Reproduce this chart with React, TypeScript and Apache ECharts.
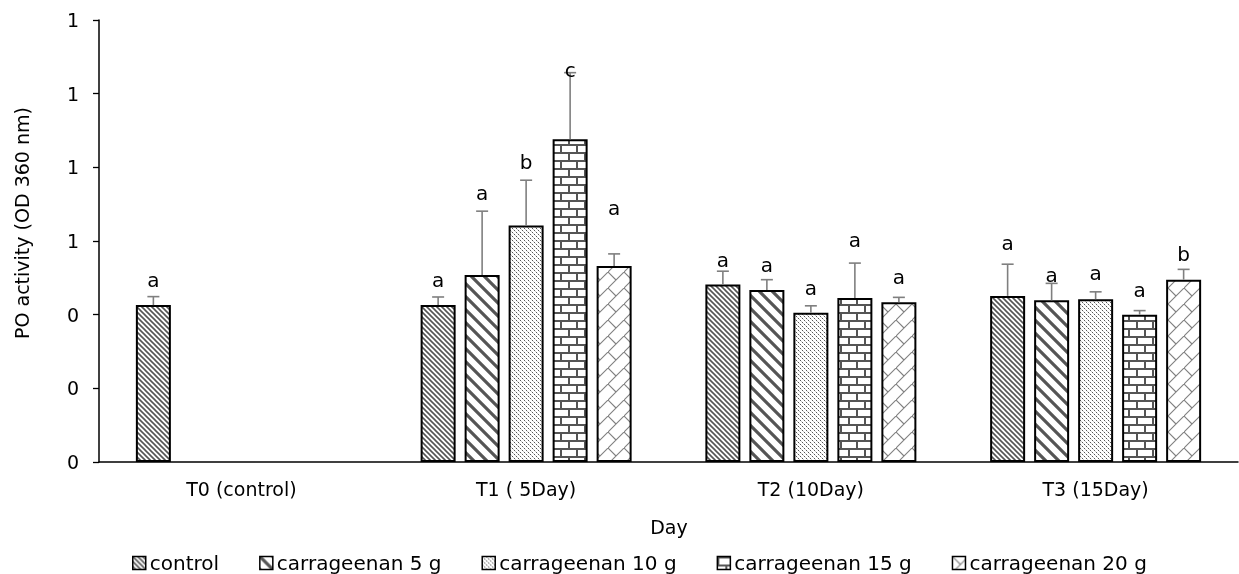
import React, { useEffect, useRef } from "react";
import * as echarts from "echarts";

const categories = ["T0 (control)", "T1 ( 5Day)", "T2 (10Day)", "T3 (15Day)"];
const seriesNames = ["control", "carrageenan 5 g", "carrageenan 10 g", "carrageenan 15 g", "carrageenan 20 g"];

const controlVals = [0.426, 0.426, 0.482, 0.451];
const c5Vals = [null, 0.508, 0.467, 0.439];
const c10Vals = [null, 0.642, 0.405, 0.442];
const c15Vals = [null, 0.876, 0.445, 0.4];
const c20Vals = [null, 0.532, 0.434, 0.495];

const controlErr = [0.023, 0.022, 0.036, 0.086];
const c5Err = [0, 0.173, 0.028, 0.046];
const c10Err = [0, 0.123, 0.019, 0.02];
const c15Err = [0, 0.181, 0.095, 0.011];
const c20Err = [0, 0.033, 0.013, 0.028];

const controlLetters = ["a", "a", "a", "a"];
const c5Letters = ["", "a", "a", "a"];
const c10Letters = ["", "b", "a", "a"];
const c15Letters = ["", "c", "a", "a"];
const c20Letters = ["", "a", "a", "b"];

// letter centre heights (in axis units)
const controlLetterY = [0.488, 0.489, 0.543, 0.589];
const c5LetterY = [0, 0.725, 0.53, 0.503];
const c10LetterY = [0, 0.809, 0.468, 0.508];
const c15LetterY = [0, 1.06, 0.598, 0.462];
const c20LetterY = [0, 0.684, 0.498, 0.559];

const yTicks = { min: 0, max: 1.2, interval: 0.2 };

const FONT = '"DejaVu Sans", sans-serif';
const BAR_W = 35;
const BAR_GAP = 9;

function tile(inner: string, w: number, h: number) {
  const svg = `<svg xmlns="http://www.w3.org/2000/svg" width="${w}" height="${h}" viewBox="0 0 ${w} ${h}">${inner}</svg>`;
  return {
    image: "data:image/svg+xml;charset=utf-8," + encodeURIComponent(svg),
    repeat: "repeat",
    imageWidth: w,
    imageHeight: h,
  } as any;
}

const patterns = [
  tile(
    `<rect width="5" height="5" fill="#fff"/><path d="M-1,-1 L6,6 M-1,4 L1,6 M4,-1 L6,1" stroke="#555" stroke-width="1.6" fill="none"/>`,
    5,
    5
  ),
  tile(
    `<rect width="13" height="13" fill="#fff"/><path d="M-1,-1 L14,14 M-4,9 L4,17 M9,-4 L17,4" stroke="#555" stroke-width="3.2" fill="none"/>`,
    13,
    13
  ),
  tile(
    `<rect width="4" height="4" fill="#fff"/><rect x="0" y="0" width="1" height="1" fill="#555"/><rect x="2" y="2" width="1" height="1" fill="#555"/><rect x="1" y="1" width="1" height="1" fill="#c8c8c8"/><rect x="3" y="3" width="1" height="1" fill="#c8c8c8"/>`,
    4,
    4
  ),
  tile(
    `<rect width="16" height="16" fill="#fff"/><rect x="0" y="0" width="16" height="2" fill="#555"/><rect x="0" y="8" width="16" height="2" fill="#555"/><rect x="0" y="0" width="2" height="8" fill="#555"/><rect x="8" y="8" width="2" height="8" fill="#555"/>`,
    16,
    16
  ),
  tile(
    `<rect width="16" height="16" fill="#fff"/><path d="M-2,18 L18,-2 M0,0 L8,8" stroke="#808080" stroke-width="1.1" fill="none"/>`,
    16,
    16
  ),
];

const allVals = [controlVals, c5Vals, c10Vals, c15Vals, c20Vals];
const allErr = [controlErr, c5Err, c10Err, c15Err, c20Err];
const allLetters = [controlLetters, c5Letters, c10Letters, c15Letters, c20Letters];
const allLetterY = [controlLetterY, c5LetterY, c10LetterY, c15LetterY, c20LetterY];

export default function App() {
  const ref = useRef<HTMLDivElement>(null);
  useEffect(() => {
    if (!ref.current) return;
    const chart = echarts.init(ref.current, null, { renderer: "svg" });

    const barSeries = allVals.map((vals, k) => ({
      name: seriesNames[k],
      type: "bar",
      data: vals.map((v) => (v == null ? "-" : v)),
      barWidth: BAR_W,
      barGap: (BAR_GAP / BAR_W) * 100 + "%",
      itemStyle: { color: patterns[k], borderColor: "#000", borderWidth: 2 },
      z: 2,
    }));

    const errSeries = allVals.map((vals, k) => ({
      name: "err" + k,
      type: "custom",
      z: 3,
      data: vals.map((v, i) => [i, v == null ? 0 : v]),
      encode: { x: 0, y: 1 },
      renderItem: (params: any, api: any) => {
        const i = params.dataIndex;
        const v = vals[i];
        if (v == null) return null;
        const base = api.coord([i, v]);
        const x = base[0] + (k - 2) * (BAR_W + BAR_GAP);
        const top = api.coord([i, v + allErr[k][i]])[1];
        const ly = api.coord([i, allLetterY[k][i]])[1];
        return {
          type: "group",
          children: [
            { type: "line", shape: { x1: x, y1: base[1], x2: x, y2: top }, style: { stroke: "#7f7f7f", lineWidth: 1.6 } },
            { type: "line", shape: { x1: x - 6, y1: top, x2: x + 6, y2: top }, style: { stroke: "#7f7f7f", lineWidth: 1.6 } },
            {
              type: "text",
              x: x,
              y: ly - 2,
              style: {
                text: allLetters[k][i],
                fill: "#000",
                fontSize: 20,
                fontFamily: FONT,
                align: "center",
                verticalAlign: "middle",
              },
            },
          ],
        };
      },
    }));

    chart.setOption({
      animation: false,
      grid: { left: 99, right: 1, top: 20, bottom: 112, containLabel: false },
      legend: {
        data: seriesNames,
        icon: "rect",
        left: 127,
        top: 548,
        itemWidth: 13,
        itemHeight: 13,
        itemGap: 40,
        itemStyle: { borderWidth: 1.5, borderColor: "#000" },
        textStyle: { fontSize: 20, fontFamily: FONT, color: "#000", padding: [0, 0, 0, -1] },
      },
      xAxis: {
        type: "category",
        data: categories,
        axisLine: { lineStyle: { color: "#000", width: 1.5 } },
        axisTick: { length: 6, lineStyle: { color: "#000", width: 1.3 } },
        axisLabel: { fontSize: 19, fontFamily: FONT, color: "#000", margin: 17 },
      },
      yAxis: {
        type: "value",
        min: yTicks.min,
        max: yTicks.max,
        interval: yTicks.interval,
        axisLine: { show: true, lineStyle: { color: "#000", width: 1.5 } },
        axisTick: { show: true, length: 6, lineStyle: { color: "#000", width: 1.3 } },
        splitLine: { show: false },
        axisLabel: {
          fontSize: 19,
          fontFamily: FONT,
          color: "#000",
          margin: 20,
          formatter: (v: number) => v.toFixed(0),
        },
      },
      graphic: [
        {
          type: "text",
          x: 669,
          y: 527,
          style: { text: "Day", fontSize: 19, fontFamily: FONT, fill: "#000", align: "center", verticalAlign: "middle" },
        },
        {
          type: "text",
          x: 22,
          y: 223,
          rotation: Math.PI / 2,
          style: {
            text: "PO activity (OD 360 nm)",
            fontSize: 19,
            fontFamily: FONT,
            fill: "#000",
            align: "center",
            verticalAlign: "middle",
          },
        },
      ],
      series: [...barSeries, ...errSeries],
    });
    return () => chart.dispose();
  }, []);
  return <div ref={ref} style={{ position: "fixed", left: 0, top: 0, width: 1239, height: 574 }} />;
}
